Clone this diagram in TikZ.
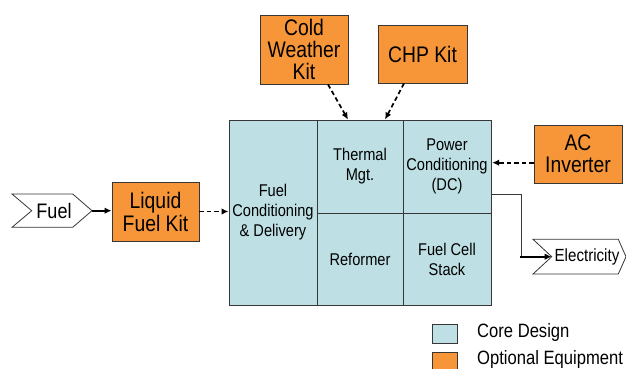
\documentclass[tikz,border=0pt]{standalone}
\usepackage{fontspec}
\setmainfont{Liberation Sans}[FakeStretch=0.86]
\usetikzlibrary{arrows.meta}
\definecolor{coreblue}{RGB}{190,224,228}
\definecolor{optorange}{RGB}{247,150,57}
\definecolor{edgegray}{RGB}{55,55,55}
\begin{document}
\begin{tikzpicture}[x=1pt,y=-1pt,
  cell/.style={draw=edgegray, line width=0.9pt, fill=coreblue, inner sep=0pt, align=center,
    font=\fontsize{17}{20}\selectfont},
  opt/.style={draw=edgegray, line width=0.9pt, fill=optorange, inner sep=0pt, align=center,
    font=\fontsize{22.5}{22}\selectfont},
  chev/.style={draw=edgegray, line width=0.8pt, fill=white, line join=miter},
  dasharrow/.style={-{Latex[length=7pt,width=6.5pt]}, line width=1.7pt, dash pattern=on 4.5pt off 3pt},
  solidarrow/.style={-{Latex[length=7pt,width=6.5pt]}, line width=1.7pt},
  legbox/.style={draw=edgegray, line width=0.8pt, minimum width=25pt, minimum height=19pt, inner sep=0pt},
  legtext/.style={anchor=west, inner sep=0pt, font=\fontsize{19.3}{20}\selectfont}
]
\useasboundingbox (0,0) rectangle (626,369);

% core block
\node[cell, minimum width=88pt, minimum height=185pt] (fcd) at (273,212.5) {Fuel\\Conditioning\\\& Delivery};
\node[cell, minimum width=86pt, minimum height=93pt] (therm) at (360,166.5) {Thermal\\Mgt.};
\node[cell, minimum width=88pt, minimum height=93pt] (power) at (447,166.5) {Power\\Conditioning\\(DC)};
\node[cell, minimum width=86pt, minimum height=92pt] (reform) at (360,259) {Reformer};
\node[cell, minimum width=88pt, minimum height=92pt] (stack) at (447,259) {Fuel Cell\\Stack};

% optional kits
\node[opt, minimum width=88pt, minimum height=69pt] (cold) at (304,49.5) {Cold\\[-0.3pt]Weather\\[-0.3pt]Kit};
\node[opt, minimum width=89pt, minimum height=58pt] (chp) at (422.5,54) {CHP Kit};
\node[opt, minimum width=88pt, minimum height=58pt] (ac) at (578,154) {AC\\Inverter};
\node[opt, minimum width=87pt, minimum height=59pt] (liquid) at (155.5,211.5) {Liquid\\[1pt]Fuel Kit};

% fuel input
\draw[chev] (12,194) -- (72.7,194) -- (92,210.7) -- (72.7,227.3) -- (12,227.3) -- (31.7,210.7) -- cycle;
\node[inner sep=0pt, font=\fontsize{21}{22}\selectfont] (fuel) at (54,211) {Fuel};
\coordinate (fueltip) at (92,210.7);

% electricity output
\draw[chev] (533,239.3) -- (618.3,239.3) -- (626,256.7) -- (618.3,274) -- (533,274) -- (551.7,256.7) -- cycle;
\node[inner sep=0pt, font=\fontsize{17.6}{20}\selectfont] (elec) at (587,256.5) {Electricity};
\coordinate (elecnotch) at (551.7,256.7);

% connectors
\draw[solidarrow] (fueltip) -- (fueltip -| liquid.west);
\draw[dasharrow] (liquid.east) -- (liquid.east -| fcd.west);
\draw[dasharrow] ([xshift=24pt]cold.south) -- ([xshift=-12pt]therm.north);
\draw[dasharrow] ([xshift=-18.5pt]chp.south) -- ([xshift=25pt]therm.north);
\draw[dasharrow] ([yshift=-8.7pt]ac.west) -- ([yshift=-8.7pt,xshift=0.7pt]power.east |- ac.west);
\draw[line width=0.9pt, edgegray] ([yshift=-27.5pt]power.east) -- ++(30,0) |- ([xshift=-31pt]elecnotch);
\draw[solidarrow] ([xshift=-31.5pt]elecnotch) -- (elecnotch);

% legend
\node[legbox, fill=coreblue] (lg1) at (444.5,333.5) {};
\node[legtext] (lt1) at (477,333) {Core Design};
\node[legbox, fill=optorange] (lg2) at (444.5,361.5) {};
\node[legtext] (lt2) at (477,360) {Optional Equipment};
\end{tikzpicture}
\end{document}
